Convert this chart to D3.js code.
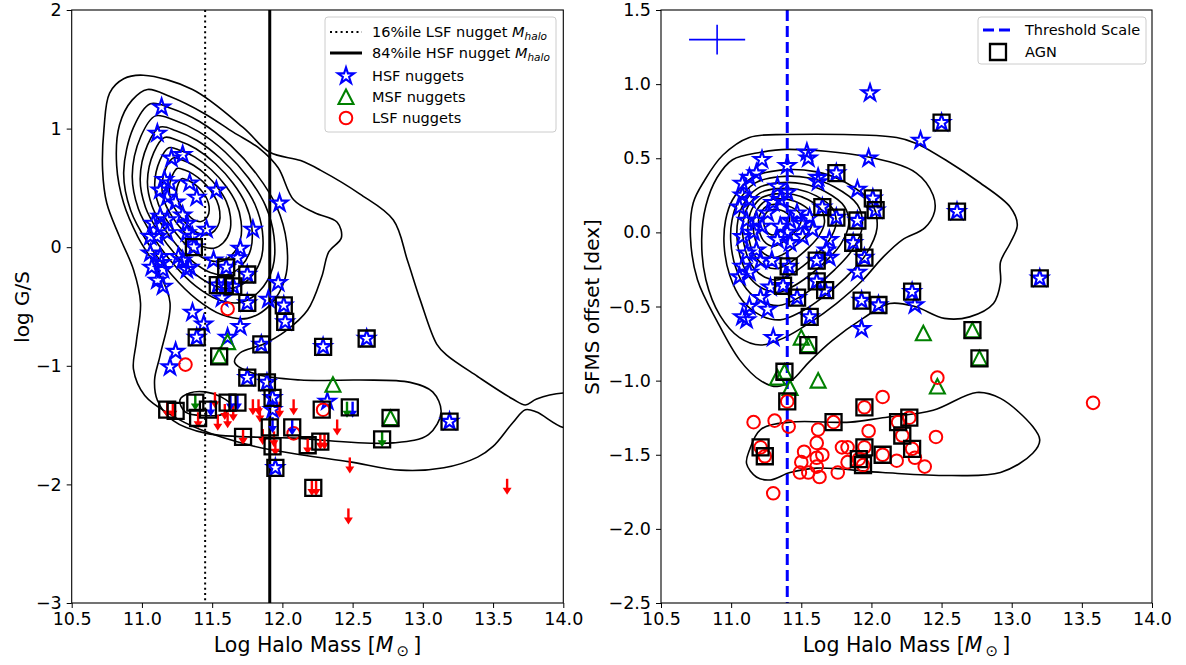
<!DOCTYPE html>
<html><head><meta charset="utf-8">
<script src="https://cdn.jsdelivr.net/npm/d3@7"></script>
<style>body{margin:0;background:#fff} text{font-family:"DejaVu Sans",sans-serif;fill:#000}</style>
</head><body><svg id="c" width="1186" height="665"></svg>
<script>
// ---------------- DATA ----------------
const xTicks=[10.5,11,11.5,12,12.5,13,13.5,14];
const leftYTicks=[-3,-2,-1,0,1,2];
const rightYTicks=[-2.5,-2,-1.5,-1,-0.5,0,0.5,1,1.5];

const lsf16=11.45, hsf84=11.91, threshold=11.40;

// Left panel (log G/S)
const leftHSF=[[11.14,1.18],[11.11,0.96],[11.21,0.75],[11.29,0.78],[11.16,0.57],[11.20,0.54],[11.13,0.48],[11.18,0.42],[11.24,0.38],[11.34,0.54],[11.39,0.42],[11.53,0.48],[11.98,0.37],[11.13,0.26],[11.08,0.20],[11.29,0.27],[11.32,0.20],[11.46,0.15],[11.11,0.09],[11.18,0.12],[11.06,0.09],[11.79,0.15],[11.32,0.12],[11.36,0.09],[11.70,-0.01],[11.68,-0.09],[11.06,-0.05],[11.13,-0.08],[11.07,-0.17],[11.15,-0.19],[11.11,-0.28],[11.15,-0.33],[11.29,-0.11],[11.34,-0.17],[11.32,-0.19],[11.51,-0.11],[11.57,-0.43],[11.97,-0.30],[11.90,-0.44],[11.36,-0.55],[11.44,-0.65],[11.61,-0.76],[11.70,-0.67],[11.24,-0.88],[11.20,-1.01],[12.32,-1.30],[11.93,-1.37],[11.18,0.23],[11.26,-0.08],[11.14,-0.13],
[11.37,0.00],[11.60,-0.17],[11.75,-0.23],[11.54,-0.32],[11.59,-0.32],[11.65,-0.33],[11.75,-0.47],[12.01,-0.49],[12.02,-0.63],[11.39,-0.76],[11.85,-0.82],[12.29,-0.84],[12.60,-0.77],[11.75,-1.10],[11.89,-1.14],[11.93,-1.27],[13.19,-1.47],[11.95,-1.86]];
const leftMSF=[[11.61,-0.80],[11.55,-0.92],[12.36,-1.16],[12.77,-1.44]];
const leftLSF=[[11.61,-0.52],[11.31,-0.99],[12.29,-1.37],[12.08,-1.57]];
const leftLimLSF=[[11.18,-1.37],[11.22,-1.37],[11.40,-1.46],[11.52,-1.29],[11.59,-1.39],[11.54,-1.48],[11.61,-1.46],[11.65,-1.40],[11.79,-1.35],[11.83,-1.35],[11.84,-1.41],[11.98,-1.37],[12.08,-1.35],[11.72,-1.60],[11.86,-1.60],[12.39,-1.52],[11.95,-1.69],[11.94,-1.62],[12.18,-1.68],[12.27,-1.64],[12.30,-1.64],[12.48,-1.84],[12.21,-2.03],[12.24,-2.03],[13.60,-2.02],[12.47,-2.27]];
const leftLimHSF=[[11.49,-1.36],[11.63,-1.31],[11.68,-1.31],[11.93,-1.50],[12.07,-1.52],[12.50,-1.37]];
const leftLimMSF=[[11.38,-1.31],[12.46,-1.37],[12.71,-1.62]];
const leftAGN=[[11.37,0.00],[11.60,-0.17],[11.75,-0.23],[11.54,-0.32],[11.59,-0.32],[11.65,-0.33],[11.75,-0.47],[12.01,-0.49],[12.02,-0.63],[11.39,-0.76],[11.85,-0.82],[12.29,-0.84],[12.60,-0.77],[11.55,-0.92],[11.75,-1.10],[11.89,-1.14],[11.93,-1.27],[11.18,-1.37],[11.24,-1.38],[11.38,-1.31],[11.40,-1.44],[11.47,-1.37],[11.61,-1.31],[11.68,-1.31],[12.28,-1.37],[12.48,-1.35],[12.77,-1.44],[13.19,-1.47],[11.72,-1.60],[11.91,-1.52],[12.07,-1.52],[11.93,-1.68],[12.18,-1.67],[12.27,-1.64],[12.71,-1.62],[11.95,-1.86],[12.22,-2.03]];

// Left contours (density levels)
const leftOuter=[[10.77,1.30],[10.87,1.42],[11.01,1.45],[11.36,1.33],[11.72,1.01],[11.91,0.80],[12.13,0.73],[12.27,0.65],[12.55,0.45],[12.79,0.23],[12.89,-0.11],[12.98,-0.44],[13.10,-0.82],[13.17,-0.91],[13.39,-1.09],[13.64,-1.28],[13.73,-1.33],[13.81,-1.28],[14.0,-1.23],[14.2,-1.24],[14.25,-1.38],[14.2,-1.53],[14.0,-1.52],[13.81,-1.39],[13.73,-1.37],[13.64,-1.48],[13.50,-1.68],[13.39,-1.77],[13.15,-1.86],[12.84,-1.88],[12.48,-1.81],[12.13,-1.75],[11.77,-1.67],[11.42,-1.54],[11.2,-1.41],[11.02,-1.25],[10.94,-1.03],[10.96,-0.80],[10.99,-0.47],[10.94,-0.19],[10.84,0.09],[10.75,0.37],[10.72,0.65],[10.73,1.0]];
const leftSecond=[[11.04,1.33],[11.20,1.27],[11.44,1.13],[11.65,0.97],[11.84,0.83],[11.97,0.67],[12.08,0.40],[12.23,0.29],[12.39,0.21],[12.42,0.08],[12.33,-0.04],[12.28,-0.25],[12.18,-0.53],[12.02,-0.71],[11.86,-0.82],[11.70,-0.89],[11.66,-0.97],[11.81,-1.07],[12.13,-1.12],[12.55,-1.12],[12.91,-1.14],[13.07,-1.22],[13.13,-1.39],[13.04,-1.58],[12.79,-1.65],[12.08,-1.61],[11.46,-1.57],[11.22,-1.46],[11.11,-1.29],[11.09,-1.12],[11.13,-0.91],[11.20,-0.47],[11.11,-0.19],[10.97,0.09],[10.87,0.37],[10.82,0.69],[10.84,1.03],[10.93,1.24]];
const leftLowLoop=[[11.27,-1.29],[11.34,-1.23],[11.45,-1.22],[11.56,-1.26],[11.64,-1.34],[11.57,-1.41],[11.45,-1.42],[11.31,-1.39]];
const leftNestShape=[[11.06,1.21],[11.21,1.17],[11.41,1.06],[11.63,0.86],[11.82,0.61],[11.96,0.34],[12.03,0.04],[12.02,-0.26],[11.91,-0.49],[11.75,-0.60],[11.57,-0.57],[11.39,-0.44],[11.21,-0.23],[11.04,0.04],[10.92,0.31],[10.87,0.63],[10.94,1.01]];
const leftPeak=[11.34,0.42];
const leftLevels=[1,0.87,0.75,0.64,0.53,0.42,0.31,0.2];

// Right panel (SFMS offset)
const rightHSF=[[11.99,0.94],[12.35,0.62],[11.98,0.50],[11.54,0.54],[11.55,0.50],[11.40,0.45],[11.22,0.49],[11.62,0.37],[11.18,0.40],[11.13,0.37],[11.08,0.33],[11.62,0.34],[11.90,0.29],[11.33,0.31],[11.40,0.27],[11.35,0.22],[11.30,0.20],[11.08,0.25],[11.13,0.22],[11.06,0.17],[11.26,0.13],[11.18,0.08],[11.22,0.04],[11.16,0.00],[11.11,0.08],[11.08,-0.03],[11.35,0.04],[11.42,0.08],[11.47,0.13],[11.51,0.06],[11.40,0.00],[11.33,-0.05],[11.42,-0.07],[11.56,0.10],[11.58,0.02],[11.51,-0.03],[11.70,-0.05],[11.68,-0.12],[11.18,-0.12],[11.11,-0.14],[11.21,-0.19],[11.08,-0.23],[11.13,-0.27],[11.06,-0.30],[11.29,-0.19],[11.90,-0.27],[11.70,-0.17],[11.28,-0.37],[11.21,-0.44],[11.13,-0.50],[11.26,-0.52],[11.08,-0.57],[11.11,-0.59],[11.93,-0.65],[11.30,-0.71],[12.31,-0.49],
[12.50,0.74],[11.75,0.40],[12.01,0.23],[12.03,0.15],[11.65,0.17],[11.75,0.10],[11.90,0.08],[11.87,-0.07],[11.61,-0.19],[11.95,-0.17],[11.41,-0.23],[11.37,-0.36],[11.61,-0.33],[11.67,-0.39],[11.47,-0.44],[11.93,-0.46],[12.05,-0.49],[11.56,-0.57],[12.61,0.14],[13.20,-0.31],[12.29,-0.40]];
const rightMSF=[[12.37,-0.68],[12.72,-0.66],[11.50,-0.71],[11.55,-0.76],[12.77,-0.85],[11.38,-0.94],[11.33,-0.98],[11.62,-1.00],[11.42,-1.05],[12.47,-1.04]];
const rightLSF=[[12.47,-0.98],[11.40,-1.14],[12.08,-1.11],[11.95,-1.18],[13.58,-1.15],[11.16,-1.28],[11.31,-1.27],[11.41,-1.31],[11.73,-1.28],[12.19,-1.28],[12.27,-1.25],[11.62,-1.33],[11.98,-1.34],[12.22,-1.37],[12.46,-1.38],[11.61,-1.42],[11.21,-1.45],[11.24,-1.51],[11.52,-1.48],[11.79,-1.45],[11.83,-1.45],[11.95,-1.45],[12.29,-1.46],[11.61,-1.52],[11.65,-1.50],[11.50,-1.55],[12.08,-1.50],[11.91,-1.53],[11.94,-1.57],[12.18,-1.54],[12.31,-1.52],[11.83,-1.55],[11.49,-1.62],[11.55,-1.62],[11.63,-1.65],[11.76,-1.62],[11.61,-1.58],[12.38,-1.58],[11.30,-1.76]];
const rightAGN=[[12.50,0.74],[11.75,0.40],[12.01,0.23],[12.03,0.15],[11.65,0.17],[11.75,0.10],[11.90,0.08],[11.87,-0.07],[11.61,-0.19],[11.95,-0.17],[11.41,-0.23],[11.37,-0.36],[11.61,-0.33],[11.67,-0.39],[11.47,-0.44],[11.93,-0.46],[12.05,-0.49],[11.56,-0.57],[12.61,0.14],[13.20,-0.31],[12.29,-0.40],[12.72,-0.66],[11.55,-0.76],[12.77,-0.85],[11.38,-0.94],[11.40,-1.14],[11.95,-1.18],[11.73,-1.28],[12.19,-1.28],[12.27,-1.25],[12.22,-1.37],[11.21,-1.45],[11.24,-1.51],[11.95,-1.45],[12.29,-1.46],[12.08,-1.50],[11.91,-1.53],[11.94,-1.57]];
const errCross={x:[10.9],y:[1.3],xerr:[0.2],yerr:[0.1]};

const rightOuter=[[11.13,0.64],[11.40,0.66],[12.18,0.64],[12.32,0.60],[12.56,0.47],[12.75,0.35],[12.99,0.17],[13.04,0.05],[12.99,-0.07],[12.92,-0.20],[12.92,-0.34],[12.87,-0.48],[12.70,-0.57],[12.52,-0.58],[12.31,-0.50],[12.13,-0.48],[11.94,-0.58],[11.72,-0.73],[11.56,-0.87],[11.43,-1.00],[11.33,-1.04],[11.21,-1.00],[11.06,-0.86],[10.90,-0.60],[10.76,-0.32],[10.71,-0.03],[10.73,0.20],[10.81,0.35],[10.94,0.52]];
const rightSecond=[[11.01,0.49],[11.21,0.54],[11.40,0.56],[11.97,0.51],[12.32,0.40],[12.44,0.25],[12.45,0.14],[12.38,0.03],[12.22,-0.05],[12.08,-0.17],[11.93,-0.33],[11.75,-0.48],[11.56,-0.61],[11.38,-0.71],[11.21,-0.76],[11.06,-0.71],[10.92,-0.56],[10.82,-0.32],[10.79,-0.05],[10.82,0.18],[10.90,0.37]];
const rightLowLoop=[[11.13,-1.47],[11.21,-1.33],[11.42,-1.28],[11.85,-1.28],[12.08,-1.25],[12.44,-1.20],[12.75,-1.08],[12.92,-1.12],[13.15,-1.31],[13.20,-1.40],[13.15,-1.49],[12.92,-1.62],[12.56,-1.64],[12.08,-1.62],[11.61,-1.59],[11.42,-1.62],[11.28,-1.67],[11.18,-1.65],[11.11,-1.56]];
const rightNestShape=[[11.01,0.22],[11.15,0.37],[11.35,0.42],[11.60,0.41],[11.81,0.34],[12.00,0.20],[12.04,0.03],[11.96,-0.15],[11.81,-0.31],[11.65,-0.44],[11.49,-0.54],[11.35,-0.59],[11.21,-0.56],[11.08,-0.46],[10.99,-0.29],[10.95,-0.09],[10.96,0.08]];
const rightPeak=[11.29,0.10];
const rightLevels=[1,0.86,0.73,0.61,0.5,0.39,0.28,0.17];

// ---------------- DRAWING ----------------
const svg=d3.select("#c");
const BLUE="#0000ff",GREEN="#008000",RED="#ff0000";
const TOPY=10,BOTY=603;

function starPath(R){const r=R*0.382;const p=[];for(let i=0;i<10;i++){const a=-Math.PI/2+i*Math.PI/5;const rr=i%2?r:R;p.push([rr*Math.cos(a),rr*Math.sin(a)]);}return "M"+p.map(q=>q[0].toFixed(2)+","+q[1].toFixed(2)).join("L")+"Z";}
const STAR=starPath(8.6);
const TRI="M0,-7.5L-7.5,7L7.5,7Z";
const SQ="M-8,-8H8V8H-8Z";

function panel(id,x0,x1,yDom){
  const x=d3.scaleLinear().domain([10.5,14]).range([x0,x1]);
  const y=d3.scaleLinear().domain(yDom).range([BOTY,TOPY]);
  const g=svg.append("g");
  svg.append("clipPath").attr("id",id).append("rect").attr("x",x0).attr("y",TOPY).attr("width",x1-x0).attr("height",BOTY-TOPY);
  const plot=g.append("g").attr("clip-path",`url(#${id})`);
  return {x,y,g,plot};
}

function contours(P,list,shape,peak,levels){
  const ln=d3.line().x(d=>P.x(d[0])).y(d=>P.y(d[1])).curve(d3.curveCatmullRomClosed.alpha(0.5));
  const cg=P.plot.append("g").attr("fill","none").attr("stroke","#000").attr("stroke-width",1.6);
  list.forEach(c=>cg.append("path").attr("d",ln(c)));
  levels.forEach(s=>{
    const pts=shape.map(p=>[peak[0]+s*(p[0]-peak[0]),peak[1]+s*(p[1]-peak[1])]);
    cg.append("path").attr("d",ln(pts));
  });
}
function markers(P,data,path,color,sw){
  P.plot.append("g").selectAll("path").data(data).join("path")
    .attr("transform",d=>`translate(${P.x(d[0])},${P.y(d[1])})`)
    .attr("d",path).attr("fill","none").attr("stroke",color).attr("stroke-width",sw).attr("stroke-linejoin","miter");
}
function circles(P,data){
  P.plot.append("g").selectAll("circle").data(data).join("circle")
    .attr("cx",d=>P.x(d[0])).attr("cy",d=>P.y(d[1])).attr("r",6.3)
    .attr("fill","none").attr("stroke",RED).attr("stroke-width",2);
}
function arrows(P,data,color){
  const ag=P.plot.append("g").selectAll("g").data(data).join("g")
    .attr("transform",d=>`translate(${P.x(d[0])},${P.y(d[1])})`);
  ag.append("line").attr("x1",0).attr("x2",0).attr("y1",-8).attr("y2",3).attr("stroke",color).attr("stroke-width",2.4);
  ag.append("path").attr("d","M-4.5,1L4.5,1L0,8Z").attr("fill",color);
}
function axes(P,x0,x1,yTicks,yFmt){
  const xa=d3.axisBottom(P.x).tickValues(xTicks).tickFormat(d3.format(".1f")).tickSize(5).tickPadding(5).tickSizeOuter(0);
  const ya=d3.axisLeft(P.y).tickValues(yTicks).tickFormat(yFmt).tickSize(5).tickPadding(5).tickSizeOuter(0);
  const gx=P.g.append("g").attr("transform",`translate(0,${BOTY})`).call(xa);
  const gy=P.g.append("g").attr("transform",`translate(${x0},0)`).call(ya);
  [gx,gy].forEach(a=>{a.select(".domain").remove();a.selectAll("text").style("font-family","DejaVu Sans").style("font-size","17.5px").attr("fill","#000");a.selectAll("line").attr("stroke","#000").attr("stroke-width",1);});
  P.g.append("rect").attr("x",x0).attr("y",TOPY).attr("width",x1-x0).attr("height",BOTY-TOPY).attr("fill","none").attr("stroke","#000").attr("stroke-width",1.1);
  const t=P.g.append("text").attr("x",(x0+x1)/2).attr("y",652).attr("text-anchor","middle").style("font-size","20.5px");
  t.append("tspan").text("Log Halo Mass [");
  t.append("tspan").attr("font-style","italic").text("M");
  t.append("tspan").attr("dy",4).style("font-size","15px").text("\u2009\u2299");
  t.append("tspan").attr("dy",-4).text("\u2009]");
}

// ----- Left panel -----
const L=panel("clipL",71.7,563.3,[-3,2]);
contours(L,[leftOuter,leftSecond,leftLowLoop],leftNestShape,leftPeak,leftLevels);
L.plot.append("line").attr("x1",L.x(lsf16)).attr("x2",L.x(lsf16)).attr("y1",TOPY).attr("y2",BOTY).attr("stroke","#000").attr("stroke-width",2).attr("stroke-dasharray","2,3.3");
L.plot.append("line").attr("x1",L.x(hsf84)).attr("x2",L.x(hsf84)).attr("y1",TOPY).attr("y2",BOTY).attr("stroke","#000").attr("stroke-width",3);
markers(L,leftHSF,STAR,BLUE,2.1);
markers(L,leftMSF,TRI,GREEN,2.1);
circles(L,leftLSF);
arrows(L,leftLimLSF,RED);
arrows(L,leftLimHSF,BLUE);
arrows(L,leftLimMSF,GREEN);
markers(L,leftAGN,SQ,"#000",2.3);
axes(L,71.7,563.3,leftYTicks,d3.format("d"));
svg.append("text").attr("transform","translate(22,307) rotate(-90)").attr("text-anchor","middle").attr("dy","0.35em").style("font-size","20px").text("log G/S");

// Left legend
(function(){
  const g=svg.append("g");
  g.append("rect").attr("x",325).attr("y",17).attr("width",231).attr("height",115).attr("rx",3).attr("fill","#fff").attr("fill-opacity",0.8).attr("stroke","#cccccc");
  const rows=[32,53,76,97,118];
  g.append("line").attr("x1",330).attr("x2",362).attr("y1",rows[0]).attr("y2",rows[0]).attr("stroke","#000").attr("stroke-width",2).attr("stroke-dasharray","2,3.3");
  g.append("line").attr("x1",330).attr("x2",362).attr("y1",rows[1]).attr("y2",rows[1]).attr("stroke","#000").attr("stroke-width",3);
  g.append("path").attr("d",STAR).attr("transform",`translate(346,${rows[2]})`).attr("fill","none").attr("stroke",BLUE).attr("stroke-width",2.1);
  g.append("path").attr("d",TRI).attr("transform",`translate(346,${rows[3]})`).attr("fill","none").attr("stroke",GREEN).attr("stroke-width",2.1);
  g.append("circle").attr("cx",346).attr("cy",rows[4]).attr("r",6.3).attr("fill","none").attr("stroke",RED).attr("stroke-width",2);
  const labs=["16%ile LSF nugget ","84%ile HSF nugget ","HSF nuggets","MSF nuggets","LSF nuggets"];
  labs.forEach((s,i)=>{
    const t=g.append("text").attr("x",372).attr("y",rows[i]+5).style("font-size","14.5px").text(s);
    if(i<2){t.append("tspan").attr("font-style","italic").text("M");t.append("tspan").attr("font-style","italic").attr("dy",3).style("font-size","10.5px").text("halo");}
  });
})();

// ----- Right panel -----
const R=panel("clipR",661,1152,[-2.5,1.5]);
contours(R,[rightOuter,rightSecond,rightLowLoop],rightNestShape,rightPeak,rightLevels);
R.plot.append("line").attr("x1",R.x(threshold)).attr("x2",R.x(threshold)).attr("y1",TOPY).attr("y2",BOTY).attr("stroke",BLUE).attr("stroke-width",3).attr("stroke-dasharray","11,5");
markers(R,rightHSF,STAR,BLUE,2.1);
markers(R,rightMSF,TRI,GREEN,2.1);
circles(R,rightLSF);
markers(R,rightAGN,SQ,"#000",2.3);
errCross.x.forEach((v,i)=>{
  const cx=R.x(v),cy=R.y(errCross.y[i]);
  R.plot.append("line").attr("x1",R.x(v-errCross.xerr[i])).attr("x2",R.x(v+errCross.xerr[i])).attr("y1",cy).attr("y2",cy).attr("stroke",BLUE).attr("stroke-width",1.6);
  R.plot.append("line").attr("x1",cx).attr("x2",cx).attr("y1",R.y(errCross.y[i]-errCross.yerr[i])).attr("y2",R.y(errCross.y[i]+errCross.yerr[i])).attr("stroke",BLUE).attr("stroke-width",1.6);
});
axes(R,661,1152,rightYTicks,d3.format(".1f"));
svg.append("text").attr("transform","translate(592,307) rotate(-90)").attr("text-anchor","middle").attr("dy","0.35em").style("font-size","20px").text("SFMS offset [dex]");

// Right legend
(function(){
  const g=svg.append("g");
  g.append("rect").attr("x",978).attr("y",17).attr("width",168).attr("height",47).attr("rx",3).attr("fill","#fff").attr("fill-opacity",0.8).attr("stroke","#cccccc");
  g.append("line").attr("x1",983).attr("x2",1013).attr("y1",30).attr("y2",30).attr("stroke",BLUE).attr("stroke-width",3).attr("stroke-dasharray","11,5");
  g.append("path").attr("d",SQ).attr("transform","translate(998,52)").attr("fill","none").attr("stroke","#000").attr("stroke-width",2.3);
  g.append("text").attr("x",1025).attr("y",35).style("font-size","14.5px").text("Threshold Scale");
  g.append("text").attr("x",1025).attr("y",57).style("font-size","14.5px").text("AGN");
})();
</script></body></html>
